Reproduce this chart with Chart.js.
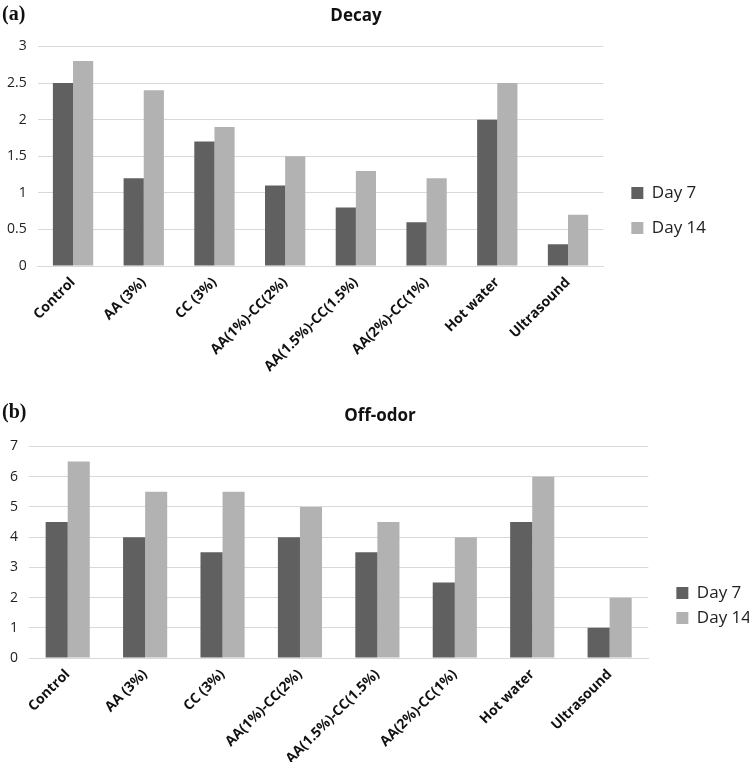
<!DOCTYPE html>
<html>
<head>
<meta charset="utf-8">
<script src="https://cdn.jsdelivr.net/npm/chart.js@4.4.1/dist/chart.umd.min.js"></script>
<style>
  body { margin: 0; background: #fff; width: 749px; height: 762px; position: relative; overflow: hidden; }
  .box { position: absolute; }
  .tag { position: absolute; left: 2px; font: bold 20px "Liberation Serif", "DejaVu Serif", serif; color: #111; }
</style>
</head>
<body>
<div class="box" style="left:-4px; top:0; width:753px; height:383px;"><canvas id="decayChart"></canvas></div>
<div class="tag" style="top:2px;">(a)</div>
<div class="box" style="left:-1px; top:400px; width:762px; height:375px;"><canvas id="odorChart"></canvas></div>
<div class="tag" style="top:400px;">(b)</div>
<script>
const treatments = ["Control", "AA (3%)", "CC (3%)", "AA(1%)-CC(2%)", "AA(1.5%)-CC(1.5%)", "AA(2%)-CC(1%)", "Hot water", "Ultrasound"];
const seriesNames = ["Day 7", "Day 14"];
const decayDay7 = [2.5, 1.2, 1.7, 1.1, 0.8, 0.6, 2.0, 0.3];
const decayDay14 = [2.8, 2.4, 1.9, 1.5, 1.3, 1.2, 2.5, 0.7];
const odorDay7 = [4.5, 4.0, 3.5, 4.0, 3.5, 2.5, 4.5, 1.0];
const odorDay14 = [6.5, 5.5, 5.5, 5.0, 4.5, 4.0, 6.0, 2.0];

const darkGrey = '#606060';
const lightGrey = '#b2b2b2';
const font = '"Open Sans", "Liberation Sans", sans-serif';

// s = layout settings for each panel
function makeChart(id, title, day7, day14, yMax, step, s) {
    const ctx = document.getElementById(id).getContext('2d');
    return new Chart(ctx, {
        type: 'bar',
        data: {
            labels: treatments,
            datasets: [
                { label: seriesNames[0], data: day7, backgroundColor: darkGrey, borderWidth: 0 },
                { label: seriesNames[1], data: day14, backgroundColor: lightGrey, borderWidth: 0 }
            ]
        },
        options: {
            responsive: true,
            maintainAspectRatio: false,
            animation: false,
            datasets: { bar: { barPercentage: 1, categoryPercentage: 0.57 } },
            layout: { padding: s.pad },
            plugins: {
                title: {
                    display: true,
                    text: title,
                    color: '#111',
                    font: { family: font, size: 17, weight: 'bold' },
                    padding: { top: 2, bottom: s.titleGap }
                },
                legend: {
                    position: 'right',
                    // blank title just pushes the legend items a bit lower
                    title: { display: true, text: ' ', font: { size: 10 }, padding: { top: 0, bottom: s.legendShift } },
                    labels: {
                        color: '#222',
                        font: { family: font, size: 17 },
                        boxWidth: 12,
                        boxHeight: 12,
                        padding: s.legendPad
                    }
                },
                tooltip: { enabled: false }
            },
            scales: {
                x: {
                    grid: { display: false, drawTicks: false },
                    border: { color: '#d9d9d9', width: 1 },
                    ticks: {
                        color: '#111',
                        font: { family: font, size: 14, weight: 'bold' },
                        minRotation: 45,
                        maxRotation: 45,
                        autoSkip: false,
                        padding: 8
                    }
                },
                y: {
                    min: 0,
                    max: yMax,
                    grid: { color: '#d9d9d9', drawTicks: false },
                    border: { display: false },
                    ticks: {
                        stepSize: step,
                        color: '#222',
                        font: { family: font, size: 14 },
                        padding: 11,
                        callback: v => String(v)
                    }
                },
                // empty axis, only keeps a gap between the bars and the legend
                gap: {
                    position: 'right',
                    display: true,
                    grid: { display: false },
                    border: { display: false },
                    ticks: { display: false },
                    afterFit: axis => { axis.width = s.legendGap; }
                }
            }
        }
    });
}

makeChart('decayChart', 'Decay', decayDay7, decayDay14, 3, 0.5,
    { pad: { left: 0, right: 33, top: 4, bottom: 0 }, titleGap: 20, legendPad: 18, legendGap: 10, legendShift: 22 });
makeChart('odorChart', 'Off-odor', odorDay7, odorDay14, 7, 1,
    { pad: { left: 0, right: 0, top: 4, bottom: 0 }, titleGap: 20, legendPad: 8, legendGap: 20, legendShift: 20 });
</script>
</body>
</html>
